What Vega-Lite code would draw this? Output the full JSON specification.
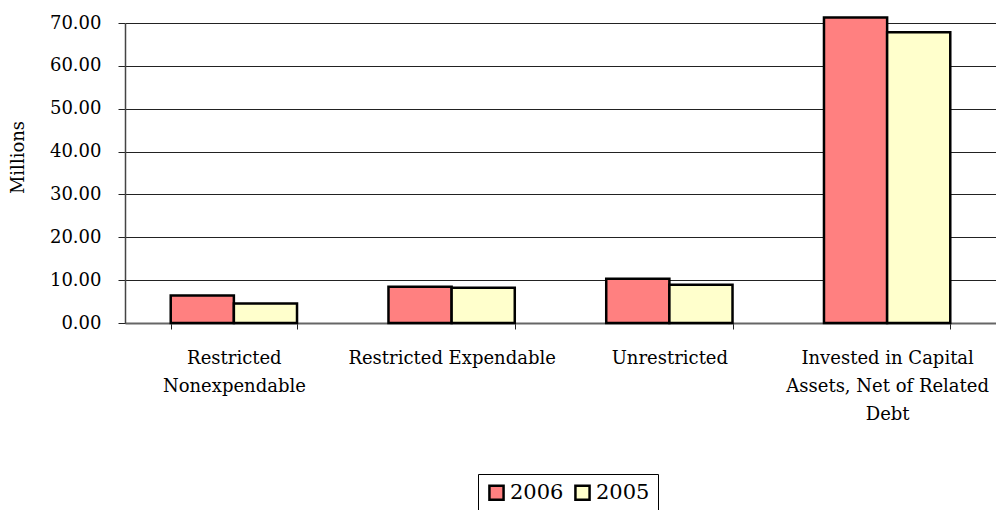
{
  "$schema": "https://vega.github.io/schema/vega-lite/v6.json",
  "autosize": {"type": "none"},
  "width": 871,
  "height": 300,
  "padding": {"left": 125, "top": 23, "right": 0, "bottom": 187},
  "background": "white",
  "config": {
    "font": "DejaVu Serif",
    "view": {"stroke": null},
    "axis": {"labelFont": "DejaVu Serif", "titleFont": "DejaVu Serif"},
    "legend": {"labelFont": "DejaVu Serif"}
  },
  "data": {
    "values": [
      {"category": "Restricted Nonexpendable", "year": "2006", "value": 6.42},
      {"category": "Restricted Nonexpendable", "year": "2005", "value": 4.55},
      {"category": "Restricted Expendable", "year": "2006", "value": 8.45},
      {"category": "Restricted Expendable", "year": "2005", "value": 8.2},
      {"category": "Unrestricted", "year": "2006", "value": 10.3},
      {"category": "Unrestricted", "year": "2005", "value": 8.9},
      {"category": "Invested in Capital Assets, Net of Related Debt", "year": "2006", "value": 71.3},
      {"category": "Invested in Capital Assets, Net of Related Debt", "year": "2005", "value": 67.85}
    ]
  },
  "mark": {"type": "bar", "stroke": "black", "strokeWidth": 2.5},
  "encoding": {
    "x": {
      "field": "category",
      "type": "nominal",
      "sort": null,
      "scale": {"paddingInner": 0.42, "paddingOuter": 0.21},
      "axis": {
        "title": null,
        "labelAngle": 0,
        "labelFontSize": 18,
        "labelColor": "black",
        "labelLineHeight": 28,
        "labelPadding": 20,
        "labelBaseline": "top",
        "labelLimit": 300,
        "labelExpr": "datum.value == 'Restricted Nonexpendable' ? ['Restricted', 'Nonexpendable'] : datum.value == 'Invested in Capital Assets, Net of Related Debt' ? ['Invested in Capital', 'Assets, Net of Related', 'Debt'] : datum.value",
        "tickBand": "extent",
        "tickColor": "#222",
        "tickSize": 6,
        "domainColor": "#666",
        "domainWidth": 2,
        "grid": false
      }
    },
    "xOffset": {"field": "year", "type": "nominal", "sort": ["2006", "2005"], "scale": {"paddingInner": 0, "paddingOuter": 0}},
    "y": {
      "field": "value",
      "type": "quantitative",
      "scale": {"domain": [0, 70], "nice": false, "clamp": false},
      "axis": {
        "title": "Millions",
        "titleFontWeight": "normal",
        "titleFontSize": 18,
        "titleColor": "black",
        "titleAngle": 270,
        "titleAlign": "center",
        "titleBaseline": "middle",
        "titleX": -107,
        "titleY": 134,
        "values": [0, 10, 20, 30, 40, 50, 60, 70],
        "format": ".2f",
        "labelFontSize": 18,
        "labelColor": "black",
        "labelPadding": 17,
        "tickSize": 7,
        "tickColor": "#222",
        "domainColor": "#444",
        "domainWidth": 1.5,
        "grid": true,
        "gridColor": "#222",
        "gridWidth": 1
      }
    },
    "fill": {
      "field": "year",
      "type": "nominal",
      "sort": ["2006", "2005"],
      "scale": {"domain": ["2006", "2005"], "range": ["#FF8080", "#FFFFCC"]},
      "legend": {
        "title": null,
        "orient": "none",
        "direction": "horizontal",
        "legendX": 353,
        "legendY": 451,
        "symbolType": "square",
        "symbolSize": 200,
        "symbolStrokeColor": "black",
        "symbolStrokeWidth": 2.5,
        "labelFontSize": 21,
        "labelColor": "black",
        "labelOffset": 3,
        "columnPadding": 6,
        "padding": 8,
        "strokeColor": "black",
        "fillColor": "white"
      }
    }
  }
}
